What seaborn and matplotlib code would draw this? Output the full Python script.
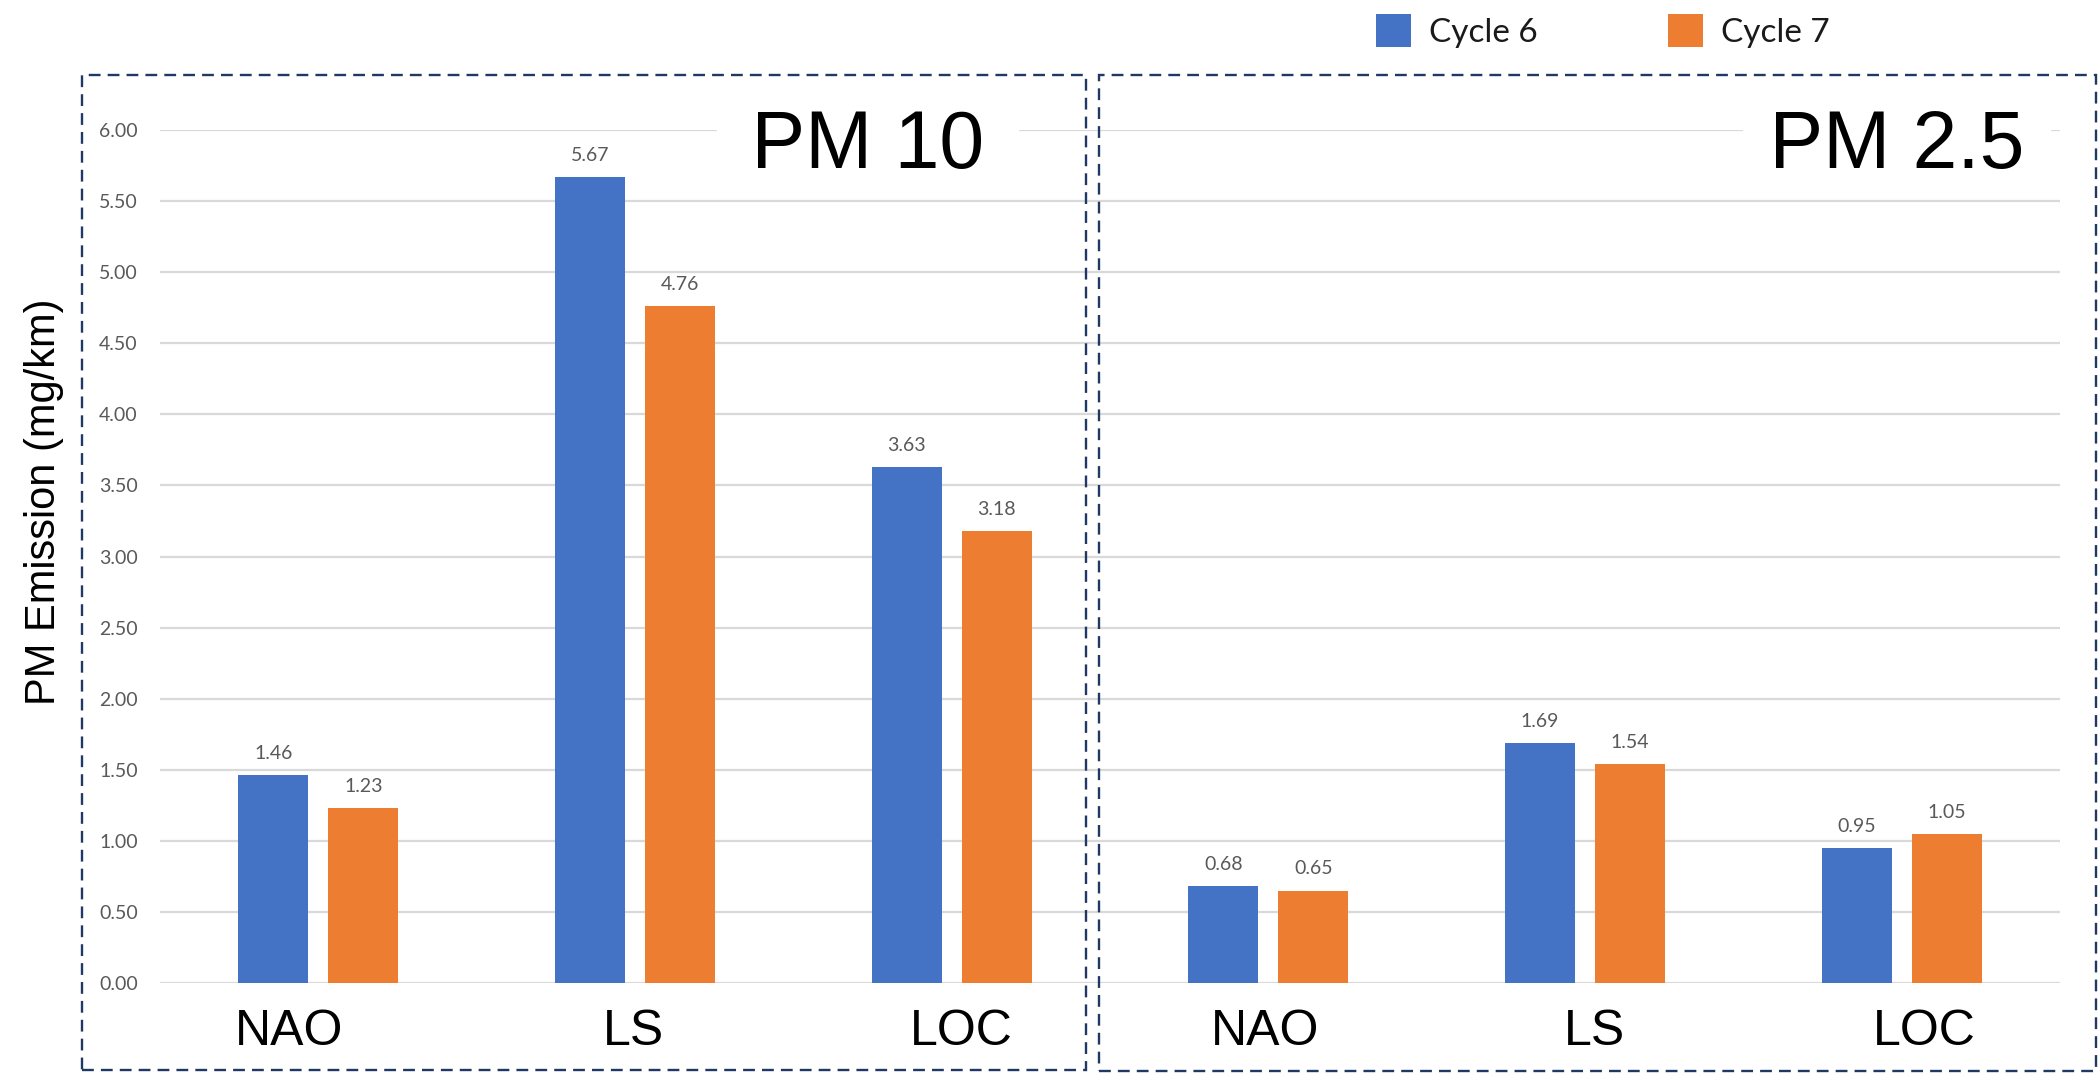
import numpy as np
import pandas as pd
import matplotlib
matplotlib.use("Agg")
import matplotlib.pyplot as plt
import matplotlib.transforms as mtransforms
from matplotlib.patches import Rectangle
from matplotlib.ticker import FormatStrFormatter
import seaborn as sns

# ---- data -------------------------------------------------------------
sites = ["NAO", "LS", "LOC"]
pollutants = ["PM 10", "PM 2.5"]
cycles = ["Cycle 6", "Cycle 7"]

cycle6_pm10 = [1.46, 5.67, 3.63]
cycle7_pm10 = [1.23, 4.76, 3.18]
cycle6_pm25 = [0.68, 1.69, 0.95]
cycle7_pm25 = [0.65, 1.54, 1.05]

y_ticks = [0.0, 0.5, 1.0, 1.5, 2.0, 2.5, 3.0, 3.5, 4.0, 4.5, 5.0, 5.5, 6.0]

# long-form table: one row per bar
rows = []
series = {
    ("PM 10", "Cycle 6"): cycle6_pm10,
    ("PM 10", "Cycle 7"): cycle7_pm10,
    ("PM 2.5", "Cycle 6"): cycle6_pm25,
    ("PM 2.5", "Cycle 7"): cycle7_pm25,
}
for (pm, cyc), vals in series.items():
    for site, v in zip(sites, vals):
        rows.append({"key": f"{pm}|{site}", "site": site, "Cycle": cyc, "value": v})
df = pd.DataFrame(rows)
order = [f"{pm}|{s}" for pm in pollutants for s in sites]

# ---- style ------------------------------------------------------------
sns.set_style("white")
plt.rcParams["font.family"] = ["Liberation Sans", "DejaVu Sans"]

BLUE = "#4472C4"
ORANGE = "#ED7D31"
GRID = "#D9D9D9"
TICK_GREY = "#595959"
NAVY = "#1F3864"

W, H = 2100, 1074
fig = plt.figure(figsize=(W / 100, H / 100), dpi=100)
ax = fig.add_axes([160 / W, 91 / H, 1900 / W, 853 / H])

sns.barplot(
    data=df, x="key", y="value", hue="Cycle",
    order=order, hue_order=cycles,
    palette=[BLUE, ORANGE], saturation=1, width=0.568, gap=0.224,
    linewidth=0, errorbar=None, ax=ax, zorder=2,
)

ax.set_ylim(0, 6)
ax.set_yticks(y_ticks)
ax.yaxis.set_major_formatter(FormatStrFormatter("%.2f"))
ax.grid(axis="y", color=GRID, linewidth=1.6, zorder=0)
ax.grid(axis="x", visible=False)
ax.set_axisbelow(True)
for sp in ax.spines.values():
    sp.set_visible(False)

ax.tick_params(axis="y", length=0, pad=16, labelsize=14, labelcolor=TICK_GREY)
for lab in ax.get_yticklabels():
    lab.set_fontfamily("Lato")

ax.set_xticks(range(len(order)))
ax.set_xticklabels([k.split("|")[1] for k in order])
ax.tick_params(axis="x", length=0, pad=19, labelsize=36, labelcolor="black")
ax.set_xlabel("")

# hand-placed category labels: small horizontal nudges (pixels)
x_nudges = [-29, -2, 10, -3, 9, 23]
for lab, dx in zip(ax.get_xticklabels(), x_nudges):
    lab.set_transform(lab.get_transform()
                      + mtransforms.ScaledTranslation(dx / 100, 0, fig.dpi_scale_trans))

ax.set_ylabel("PM Emission (mg/km)", fontsize=30, color="black")
ax.yaxis.set_label_coords(-0.0505, 0.564)

# value labels above bars
for cont in ax.containers:
    ax.bar_label(cont, fmt="%.2f", padding=9.5, fontsize=14,
                 color=TICK_GREY, fontfamily="Lato")

# panel titles with white backing over the gridline
fig.text(868 / W, 1 - 168 / H, " PM 10 ", fontsize=58, ha="center", va="baseline",
         color="black", zorder=5,
         bbox=dict(boxstyle="square,pad=0.15", fc="white", ec="none"))
fig.text(1897 / W, 1 - 168 / H, " PM 2.5 ", fontsize=58, ha="center", va="baseline",
         color="black", zorder=5,
         bbox=dict(boxstyle="square,pad=0.05", fc="white", ec="none"))

# legend across the top
sns.move_legend(
    ax, loc="center left",
    bbox_to_anchor=(1376 / W, 1 - 31 / H), bbox_transform=fig.transFigure,
    ncol=2, frameon=False, title=None,
    fontsize=24, handlelength=1.05, handleheight=1.11,
    handletextpad=0.54, columnspacing=3.9, borderpad=0, borderaxespad=0,
)
leg = ax.get_legend()
for t in leg.get_texts():
    t.set_fontfamily("Lato")
    t.set_color("#1a1a1a")

# dashed panel frames
frame_kw = dict(transform=fig.transFigure, fill=False, edgecolor=NAVY,
                linewidth=1.7, linestyle=(0, (5, 3)), zorder=10)
fig.add_artist(Rectangle((82 / W, 1 - 1070 / H), (1086 - 82) / W, (1070 - 75) / H, **frame_kw))
fig.add_artist(Rectangle((1099 / W, 1 - 1071 / H), (2096 - 1099) / W, (1071 - 75) / H, **frame_kw))

fig.savefig("out.png", dpi=100)
